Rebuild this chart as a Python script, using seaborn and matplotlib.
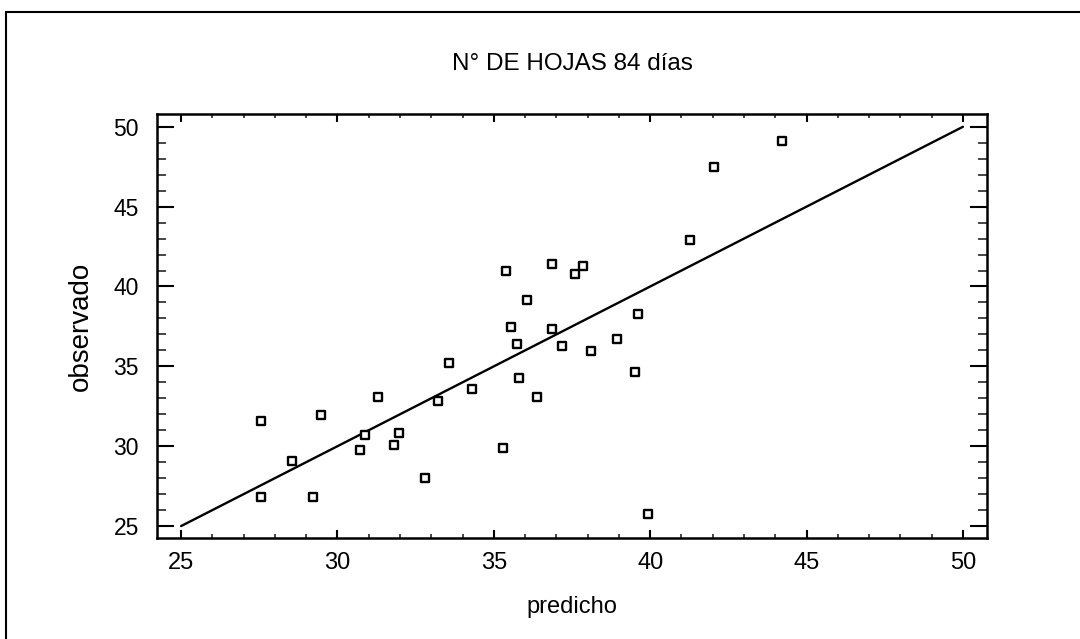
import numpy as np
import pandas as pd
import matplotlib
matplotlib.use("Agg")
import matplotlib.pyplot as plt
import seaborn as sns
from matplotlib.ticker import MultipleLocator
from matplotlib.lines import Line2D

# predicho (x) vs observado (y)
predicho = [27.55, 27.55, 28.55, 29.22, 29.47, 31.30, 30.88, 30.71, 31.97, 31.80,
            32.80, 33.22, 33.57, 34.30, 35.30, 35.40, 35.56, 35.73, 35.82, 36.07,
            36.39, 36.85, 36.85, 37.18, 37.59, 37.84, 38.10, 38.93, 39.60, 39.51,
            39.93, 41.26, 42.04, 44.21]
observado = [31.59, 26.80, 29.07, 26.82, 31.93, 33.10, 30.68, 29.78, 30.84, 30.09,
             28.01, 32.81, 35.23, 33.58, 29.90, 40.95, 37.46, 36.40, 34.29, 39.13,
             33.10, 41.39, 37.32, 36.25, 40.80, 41.26, 35.96, 36.73, 38.26, 34.62,
             25.75, 42.91, 47.46, 49.11]

# reference line y = x
linea_x = [25, 50]
linea_y = [25, 50]

ticks = [25, 30, 35, 40, 45, 50]

df = pd.DataFrame({"predicho": predicho, "observado": observado})
df_linea = pd.DataFrame({"x": linea_x, "y": linea_y})

sns.set_style("white")
plt.rcParams["font.family"] = ["Liberation Sans", "DejaVu Sans"]
plt.rcParams["text.color"] = "black"
plt.rcParams["axes.labelcolor"] = "black"

fig = plt.figure(figsize=(10.8, 6.39), dpi=100)
ax = fig.add_axes([0.1454, 0.158, 0.7685, 0.6636])

sns.lineplot(data=df_linea, x="x", y="y", ax=ax, color="black", linewidth=1.7)
sns.scatterplot(data=df, x="predicho", y="observado", ax=ax, marker="s", s=30,
                facecolor="white", edgecolor="black", linewidth=1.7, zorder=3)

ax.set_xlim(24.23, 50.77)
ax.set_ylim(24.25, 50.8)
ax.set_xticks(ticks)
ax.set_yticks(ticks)
ax.xaxis.set_minor_locator(MultipleLocator(1))
ax.yaxis.set_minor_locator(MultipleLocator(1))

ax.tick_params(axis="x", which="major", direction="in", length=6, width=1.5,
               top=True, bottom=True, labelsize=17, pad=10, colors="black")
ax.tick_params(axis="x", which="minor", direction="in", length=3, width=1.2,
               top=True, bottom=True)
ax.tick_params(axis="y", which="major", direction="in", length=12, width=1.5,
               left=True, right=True, labelsize=16.5, pad=13, colors="black")
ax.tick_params(axis="y", which="minor", direction="in", length=6.5, width=1.2,
               left=True, right=True)

for sp in ax.spines.values():
    sp.set_color("black")
    sp.set_linewidth(1.8)

ax.set_xlabel("predicho", fontsize=17, labelpad=16, color="black")
ax.set_ylabel("observado", fontsize=20, labelpad=14, color="black")
ax.set_title("N° DE HOJAS 84 días", fontsize=17.5, pad=32, color="black")

# outer frame (top and left edges only)
fig.add_artist(Line2D([6 / 1080, 6 / 1080], [0, 1 - 12 / 639],
                      transform=fig.transFigure, color="black", linewidth=1.5))
fig.add_artist(Line2D([6 / 1080, 1], [1 - 12 / 639, 1 - 12 / 639],
                      transform=fig.transFigure, color="black", linewidth=1.5))

fig.savefig("out.png", dpi=100)
